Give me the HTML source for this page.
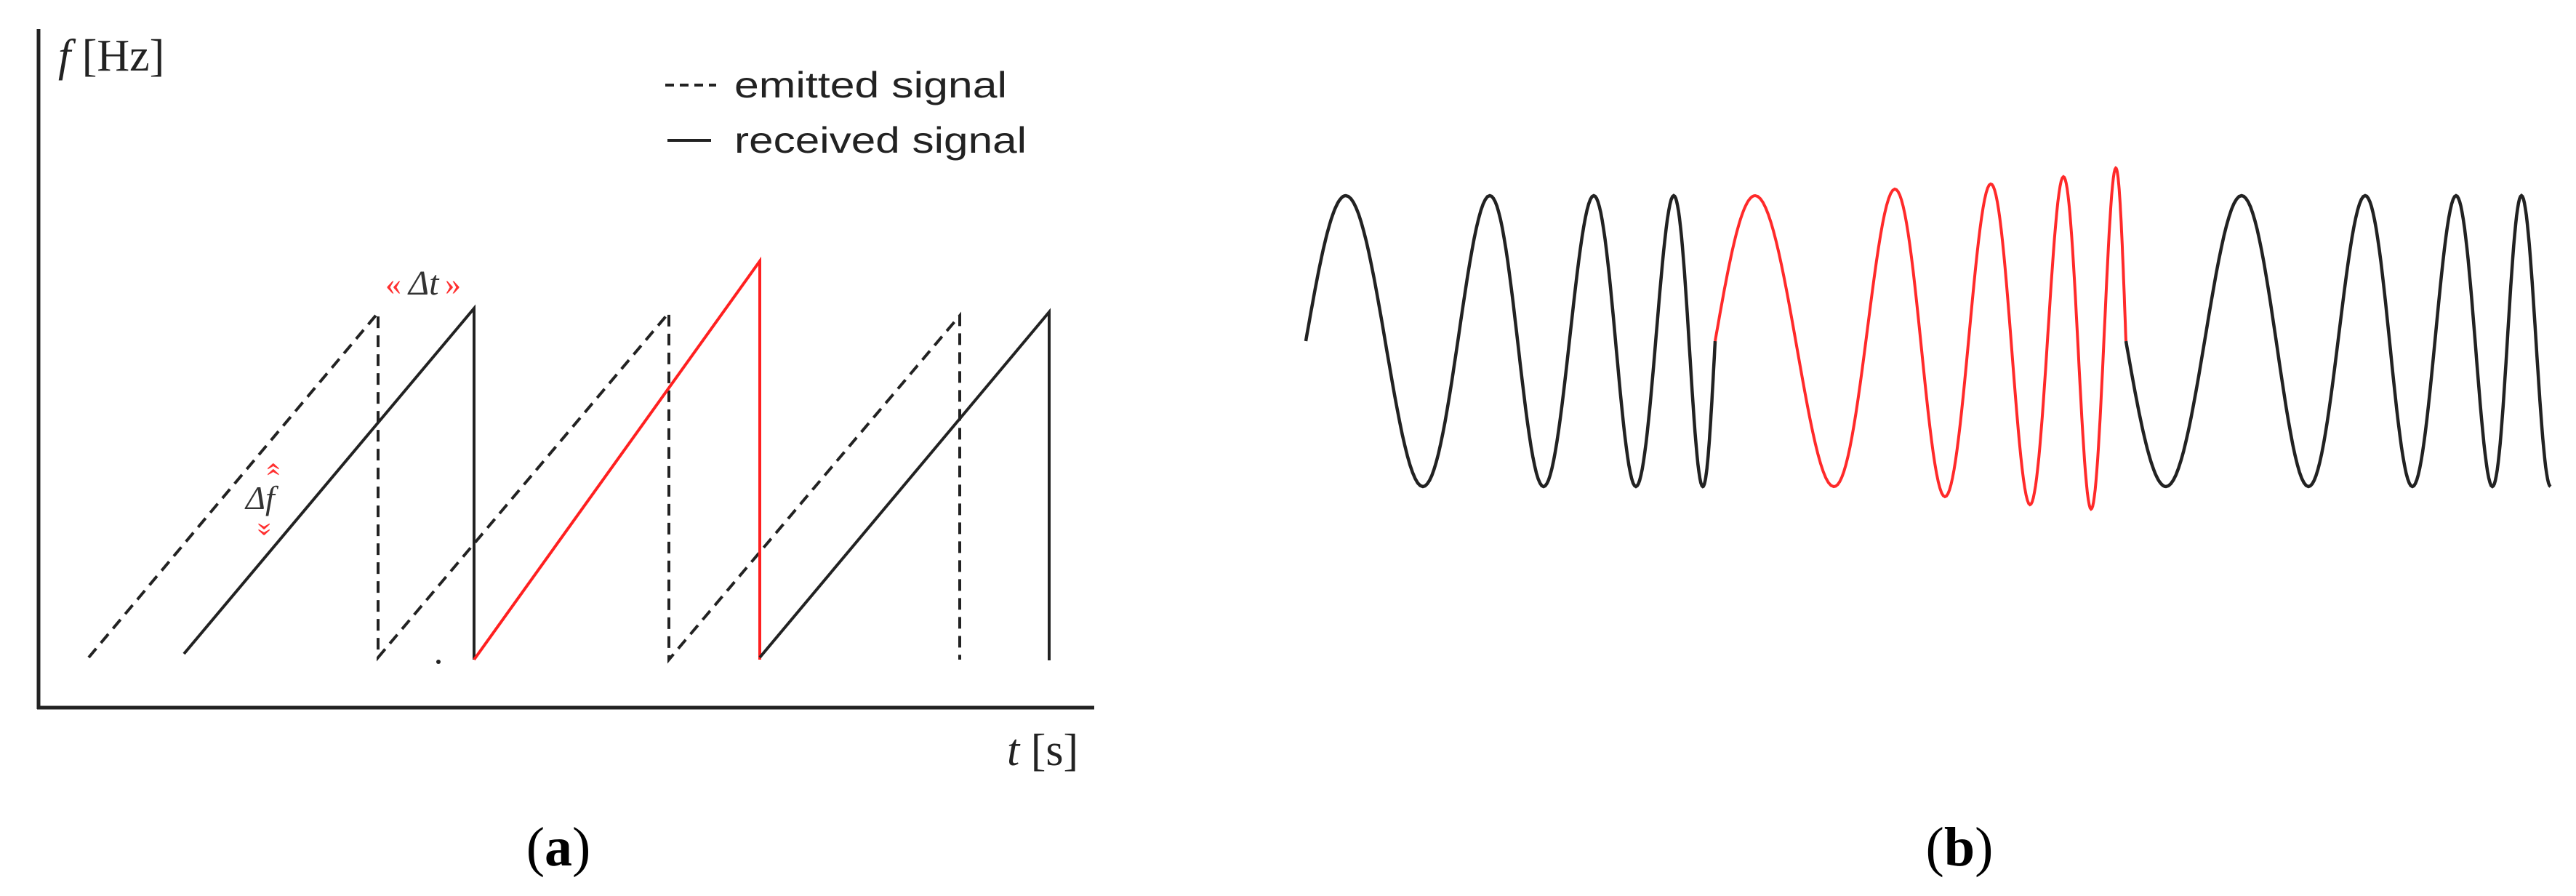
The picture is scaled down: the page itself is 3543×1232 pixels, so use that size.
<!DOCTYPE html>
<html><head><meta charset="utf-8"><style>
html,body{margin:0;padding:0;background:#fff;}
svg{display:block;}
</style></head><body>
<svg id="s" width="3543" height="1232" viewBox="0 0 3543 1232" xmlns="http://www.w3.org/2000/svg">
<rect width="3543" height="1232" fill="#fff"/>
<line x1="53" y1="40" x2="53" y2="975" stroke="#222" stroke-width="5"/>
<line x1="51" y1="973" x2="1505" y2="973" stroke="#222" stroke-width="5"/>
<text x="80" y="97" font-family="Liberation Serif, serif" font-size="62" fill="#222"><tspan font-style="italic">f</tspan> [Hz]</text>
<text x="1385" y="1052" font-family="Liberation Serif, serif" font-size="62" fill="#222"><tspan font-style="italic">t</tspan> [s]</text>
<line x1="915" y1="117" x2="985" y2="117" stroke="#222" stroke-width="4" stroke-dasharray="12,8"/>
<line x1="918" y1="193" x2="978" y2="193" stroke="#222" stroke-width="4"/>
<text x="1010" y="134" font-family="Liberation Sans, sans-serif" font-size="50" fill="#222" textLength="375" lengthAdjust="spacingAndGlyphs">emitted signal</text>
<text x="1010" y="210" font-family="Liberation Sans, sans-serif" font-size="50" fill="#222" textLength="402" lengthAdjust="spacingAndGlyphs">received signal</text>
<g fill="none" stroke-width="4">
<polyline points="122,904 520,430 520,904 920,430 920,907 1320,434 1320,907" stroke="#222" stroke-dasharray="16,10"/>
<polyline points="253,899 652,424 652,907" stroke="#222"/>
<polyline points="652,907 1045,359 1045,907" stroke="#ff2020"/>
<polyline points="1045,904 1443,429 1443,908" stroke="#222"/>
</g>
<circle cx="603" cy="910" r="3" fill="#222"/>
<text x="530" y="405" font-family="Liberation Serif, serif" font-size="44" fill="#ff3030">«</text>
<text x="562" y="405" font-family="Liberation Serif, serif" font-size="48" font-style="italic" fill="#333">Δt</text>
<text x="612" y="405" font-family="Liberation Serif, serif" font-size="44" fill="#ff3030">»</text>
<text x="338" y="700" font-family="Liberation Serif, serif" font-size="46" font-style="italic" fill="#333">Δf</text>
<text x="368" y="662" text-anchor="middle" font-family="Liberation Serif, serif" font-size="40" fill="#ff3030" transform="rotate(-90 368 645)">»</text>
<text x="366" y="740" text-anchor="middle" font-family="Liberation Serif, serif" font-size="40" fill="#ff3030" transform="rotate(90 366 728)">»</text>
<text x="768" y="1190" text-anchor="middle" font-family="Liberation Serif, serif" font-size="76" fill="#000">(<tspan font-weight="bold">a</tspan>)</text>
<text x="2695" y="1190" text-anchor="middle" font-family="Liberation Serif, serif" font-size="76" fill="#000">(<tspan font-weight="bold">b</tspan>)</text>
<path id="w1" fill="none" stroke="#222" stroke-width="4.5"/>
<path id="w2" fill="none" stroke="#ff2a2a" stroke-width="4"/>
<path id="w3" fill="none" stroke="#222" stroke-width="4.5"/>
</svg>
<script>
function build(kn){
  var c=469,d="",n=kn.length,s=[],m=[];
  for(var i=0;i<n-1;i++)s.push((kn[i+1][1]-kn[i][1])/(kn[i+1][0]-kn[i][0]));
  for(var i=0;i<n;i++){
    if(i==0)m.push(s[0]);else if(i==n-1)m.push(s[n-2]);
    else m.push(2*s[i-1]*s[i]/(s[i-1]+s[i]));
  }
  for(var i=0;i<n-1;i++){
    var a=kn[i],b=kn[i+1],h=b[0]-a[0];
    for(var k=0;k<=30;k++){
      if(i>0&&k==0)continue;
      var t=k/30,t2=t*t,t3=t2*t;
      var p=(2*t3-3*t2+1)*a[1]+(t3-2*t2+t)*h*m[i]+(-2*t3+3*t2)*b[1]+(t3-t2)*h*m[i+1];
      var x=a[0]+h*t,A=a[2]+(b[2]-a[2])*t;
      var y=c-A*Math.sin(p*Math.PI/2);
      d+=(d?"L":"M")+x.toFixed(1)+","+y.toFixed(1);
    }
  }
  return d;
}
var k1=[[1796,0,200],[1851,1,200],[1957,3,200],[2049,5,200],[2123,7,200],[2192,9,200],[2250,11,200],[2302,13,200],[2342,15,200],[2359,16,200]];
var k2=[[2359,0,200],[2414,1,200],[2522,3,200],[2606,5,209],[2675,7,214],[2738,9,216],[2792,11,225],[2838,13,226],[2876,15,231],[2910,17,238],[2924,18,238]];
var k3=[[2924,18,200],[2979,19,200],[3083,21,200],[3175,23,200],[3253,25,200],[3318,27,200],[3378,29,200],[3428,31,200],[3468,33,200],[3508,35,200]];
document.getElementById("w1").setAttribute("d",build(k1));
document.getElementById("w2").setAttribute("d",build(k2));
document.getElementById("w3").setAttribute("d",build(k3));
</script>
</body></html>
